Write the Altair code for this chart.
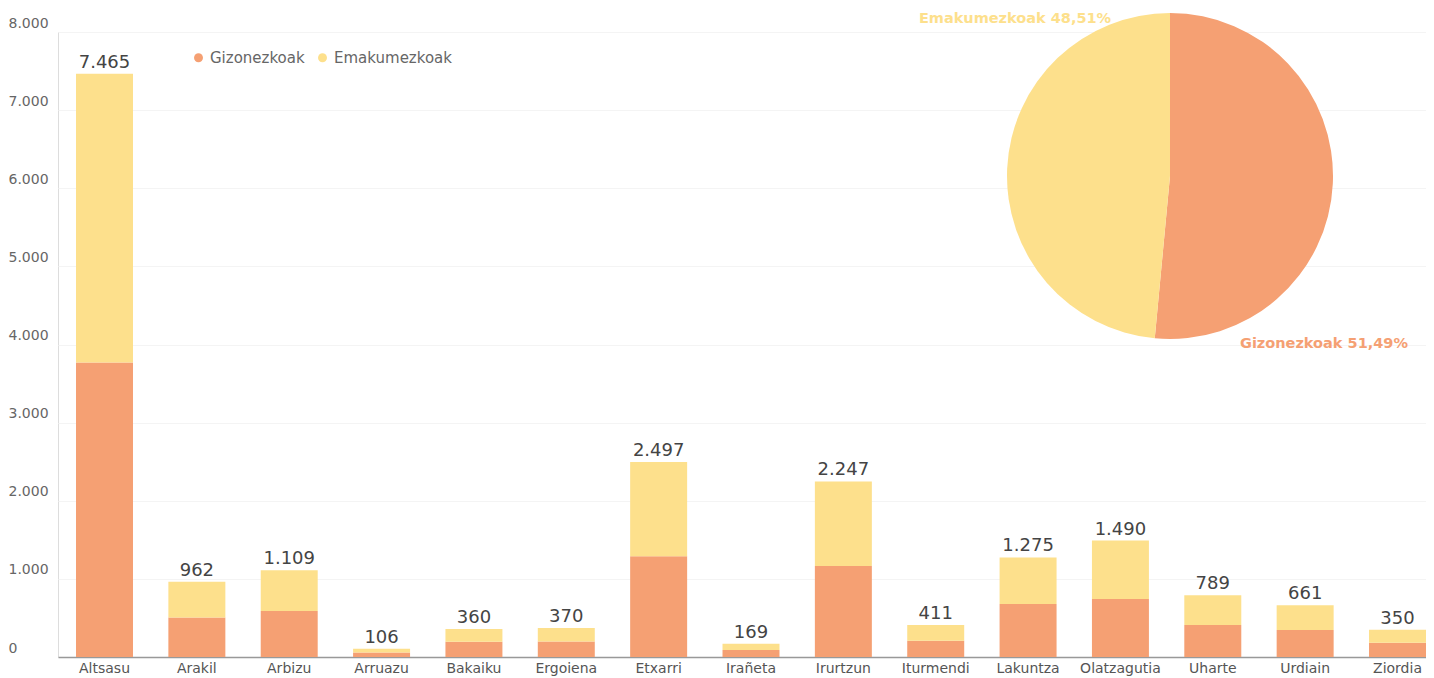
import altair as alt
import pandas as pd

# --- data ---
udalerriak = ["Altsasu", "Arakil", "Arbizu", "Arruazu", "Bakaiku", "Ergoiena", "Etxarri",
              "Irañeta", "Irurtzun", "Iturmendi", "Lakuntza", "Olatzagutia", "Uharte",
              "Urdiain", "Ziordia"]
guztira = [7465, 962, 1109, 106, 360, 370, 2497, 169, 2247, 411, 1275, 1490, 789, 661, 350]
gizonezkoak = [3770, 505, 590, 58, 196, 200, 1290, 90, 1165, 209, 680, 744, 410, 346, 183]
sexuak = ["Gizonezkoak", "Emakumezkoak"]
ehunekoak = [51.49, 48.51]
kolorea = ["#F5A073", "#FDE08C"]
y_ticks = [0, 1000, 2000, 3000, 4000, 5000, 6000, 7000, 8000]

emakumezkoak = [t - g for t, g in zip(guztira, gizonezkoak)]

rows = []
for u, g, e in zip(udalerriak, gizonezkoak, emakumezkoak):
    rows.append({"udalerria": u, "sexua": sexuak[0], "balioa": g, "ord": 0})
    rows.append({"udalerria": u, "sexua": sexuak[1], "balioa": e, "ord": 1})
bars_df = pd.DataFrame(rows)
tot_df = pd.DataFrame({"udalerria": udalerriak, "guztira": guztira})
pie_df = pd.DataFrame({"sexua": sexuak, "ehunekoa": ehunekoak, "ord": [0, 1]})
pie_df["etiketa"] = [f"{s} {p:.2f}".replace(".", ",") + "%" for s, p in zip(sexuak, ehunekoak)]

FONT = "DejaVu Sans"
color_scale = alt.Scale(domain=sexuak, range=kolorea)
x_enc = alt.X("udalerria:N", sort=udalerriak,
              scale=alt.Scale(paddingInner=0.383, paddingOuter=0.0975, align=1),
              axis=alt.Axis(title=None, labelAngle=0, ticks=False, domainColor="#999999",
                            domainWidth=1.5, labelFontSize=14, labelColor="#555555",
                            labelPadding=4, labelFont=FONT))
y_scale = alt.Scale(domain=[0, 8000], nice=False)

bars = alt.Chart(bars_df).mark_bar().encode(
    x=x_enc,
    y=alt.Y("balioa:Q", stack="zero", scale=y_scale,
            axis=alt.Axis(title=None, values=y_ticks, ticks=False, domain=False,
                          labelAlign="left", labelPadding=50, labelBaseline="alphabetic",
                          labelOffset=-5, labelFontSize=14, labelColor="#666666",
                          labelFont=FONT, gridColor="#f4f4f4", gridWidth=1,
                          labelExpr="replace(format(datum.value, ','), ',', '.')")),
    color=alt.Color("sexua:N", scale=color_scale,
                    legend=alt.Legend(title=None, orient="none", legendX=133, legendY=18,
                                      direction="horizontal", symbolType="circle",
                                      symbolSize=80, labelFontSize=15, labelColor="#666666",
                                      labelFont=FONT, columnPadding=10, symbolStrokeWidth=0)),
    order=alt.Order("ord:Q"),
)

totals = alt.Chart(tot_df).transform_calculate(
    lab="replace(format(datum.guztira, ','), ',', '.')"
).mark_text(baseline="alphabetic", dy=-6, fontSize=18, color="#444444", font=FONT).encode(
    x=alt.X("udalerria:N", sort=udalerriak),
    y=alt.Y("guztira:Q", scale=y_scale),
    text="lab:N",
)

pie = alt.Chart(pie_df).mark_arc(radius=163, stroke=None).encode(
    theta=alt.Theta("ehunekoa:Q", stack=True),
    color=alt.Color("sexua:N", scale=color_scale),
    order=alt.Order("ord:Q"),
    x=alt.value(1112),
    y=alt.value(144),
)

lab_g = alt.Chart(pie_df).transform_filter(alt.datum.ord == 0).mark_text(
    align="left", baseline="alphabetic", fontSize=14.5, fontWeight="bold", color=kolorea[0], font=FONT
).encode(text="etiketa:N", x=alt.value(1182), y=alt.value(316))

lab_e = alt.Chart(pie_df).transform_filter(alt.datum.ord == 1).mark_text(
    align="center", baseline="alphabetic", fontSize=14.5, fontWeight="bold", color=kolorea[1], font=FONT
).encode(text="etiketa:N", x=alt.value(957), y=alt.value(-9))

chart = alt.layer(bars, totals, pie, lab_g, lab_e).properties(
    width=1368, height=625,
    autosize=alt.AutoSizeParams(type="none"),
    padding={"left": 50, "top": 24, "right": 0, "bottom": 21},
).configure_view(stroke=None).configure(font=FONT)

chart.save("out.html", embed_options={"renderer": "svg", "actions": False})
